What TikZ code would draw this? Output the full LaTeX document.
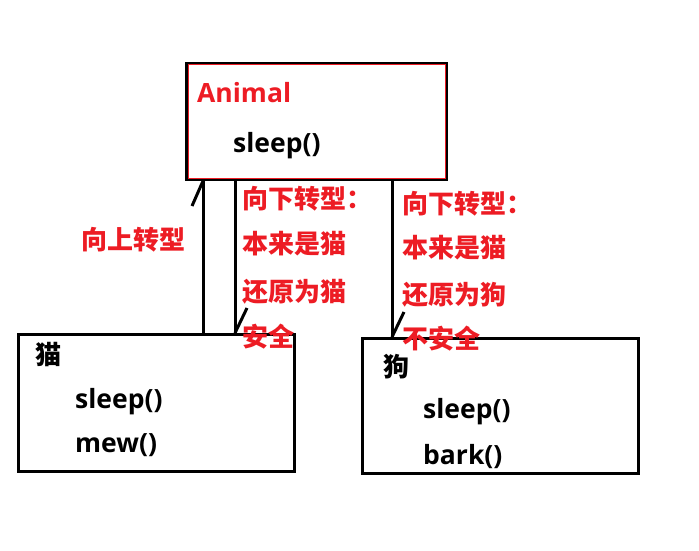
\documentclass[tikz,border=0pt]{standalone}
\usepackage{fontspec}
\usetikzlibrary{calc}
\setmainfont{Open Sans}
\newfontfamily\cjk{Noto Sans CJK SC}
\definecolor{pred}{RGB}{237,28,36}
\begin{document}
\begin{tikzpicture}[x=1pt,y=-1pt,
  box/.style={draw=black,line width=3pt,minimum width=#1,inner sep=0pt},
  lat/.style={anchor=west,inner sep=0pt,font=\fontsize{26.5}{30}\selectfont\bfseries},
  zh/.style={anchor=west,inner sep=0pt,font=\fontsize{26}{30}\selectfont\cjk\bfseries},
  conn/.style={line width=3pt}]
\fill[white] (0,0) rectangle (699,551);
\useasboundingbox (0,0) rectangle (699,551);
% boxes
\node[box=260pt,minimum height=116pt] (animal) at (316.5,121.5) {};
\draw[pred,line width=1pt] ($(animal.north west)+(3,3)$) rectangle ($(animal.south east)+(-3,-3)$);
\node[box=276pt,minimum height=137pt] (cat) at (156.5,403) {};
\node[box=276pt,minimum height=135pt] (dog) at (500.5,406) {};
% texts in boxes
\node[lat,text=pred] (tA) at (197,93) {Animal};
\node[lat] (tA1) at (233,146) {sleep()};
\node[zh] (tC) at (35,355) {猫};
\node[lat] (tC1) at (75,402) {sleep()};
\node[lat] (tC2) at (75,445) {mew()};
\node[zh] (tD) at (383,367) {狗};
\node[lat] (tD1) at (423,412) {sleep()};
\node[lat] (tD2) at (423,457) {bark()};
% connectors
\coordinate (u) at (203,0);
\coordinate (d1) at (235,0);
\coordinate (d2) at (392,0);
\draw[conn] (cat.north -| u) -- (animal.south -| u) coordinate (uh);
\draw[conn] (uh) -- ++(-11,25);
\draw[conn] (animal.south -| d1) -- (cat.north -| d1) coordinate (d1h);
\draw[conn] (d1h) -- ++(12,-25);
\draw[conn] (animal.south -| d2) -- (dog.north -| d2) coordinate (d2h);
\draw[conn] (d2h) -- ++(12,-25);
% labels
\node[zh,text=pred] (up) at (81,240) {向上转型};
\node[zh,text=pred] (l1) at (242,199) {向下转型：};
\node[zh,text=pred] (l2) at (242,244) {本来是猫};
\node[zh,text=pred] (l3) at (242,292) {还原为猫};
\node[zh,text=pred] (l4) at (242,337) {安全};
\node[zh,text=pred] (r1) at (402,204) {向下转型：};
\node[zh,text=pred] (r2) at (402,248) {本来是猫};
\node[zh,text=pred] (r3) at (402,295) {还原为狗};
\node[zh,text=pred] (r4) at (402,339) {不安全};
\end{tikzpicture}
\end{document}
